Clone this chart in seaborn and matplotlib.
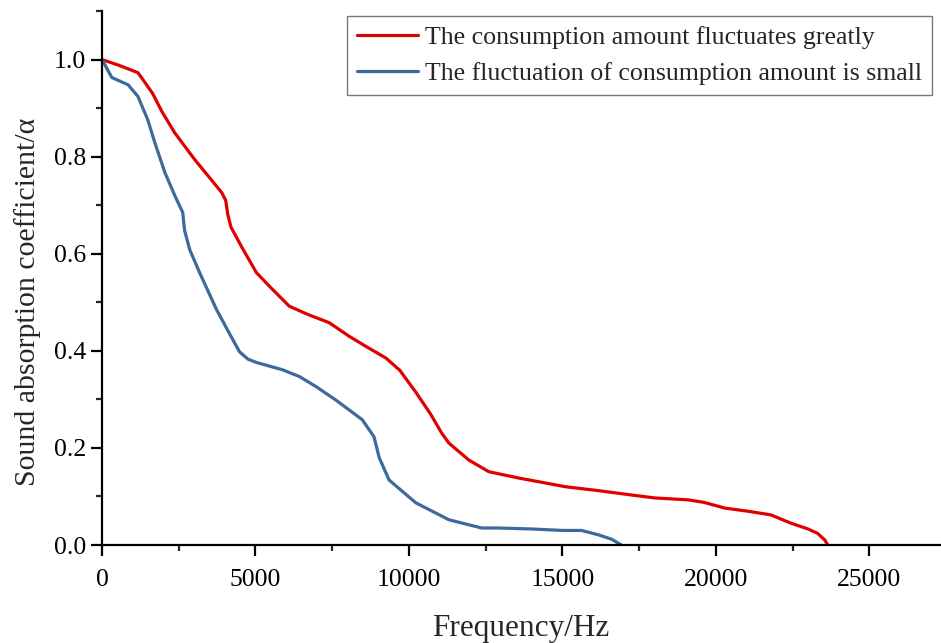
import matplotlib
matplotlib.use("Agg")
import matplotlib.pyplot as plt
import seaborn as sns
import pandas as pd
from matplotlib.ticker import MultipleLocator

# Data
red_freq = [0, 600, 1170, 1330, 1650, 1950, 2370, 3020, 3500, 3900, 4030, 4100, 4200,
            4550, 5030, 5500, 6100, 6700, 7400, 8050, 8600, 9250, 9700, 10220, 10700,
            11070, 11300, 11950, 12600, 13570, 15100, 16170, 17250, 18000, 19090, 19600,
            20290, 21000, 21790, 22440, 23000, 23310, 23550, 23640]
red_alpha = [1.0, 0.987, 0.973, 0.959, 0.93, 0.893, 0.849, 0.794, 0.757, 0.726, 0.71, 0.68, 0.655,
             0.614, 0.561, 0.53, 0.492, 0.475, 0.458, 0.43, 0.409, 0.385, 0.36, 0.315, 0.27,
             0.23, 0.21, 0.175, 0.151, 0.138, 0.12, 0.112, 0.103, 0.097, 0.093, 0.088,
             0.076, 0.07, 0.062, 0.045, 0.033, 0.024, 0.01, 0.0]

blue_freq = [0, 320, 850, 1170, 1490, 1720, 2050, 2370, 2630, 2690, 2860, 3180, 3730, 4200,
             4480, 4750, 5030, 5880, 6430, 6980, 7630, 8480, 8860, 9030, 9350, 10220, 11300,
             12370, 12920, 14000, 15000, 15620, 16170, 16600, 16920]
blue_alpha = [1.0, 0.963, 0.948, 0.924, 0.876, 0.829, 0.767, 0.72, 0.685, 0.648, 0.608, 0.561,
              0.485, 0.43, 0.398, 0.383, 0.376, 0.361, 0.347, 0.326, 0.298, 0.258, 0.223, 0.18,
              0.134, 0.087, 0.052, 0.035, 0.035, 0.033, 0.030, 0.030, 0.021, 0.012, 0.0]

series_names = ["The consumption amount fluctuates greatly",
                "The fluctuation of consumption amount is small"]
x_ticks = [0, 5000, 10000, 15000, 20000, 25000]
y_ticks = [0.0, 0.2, 0.4, 0.6, 0.8, 1.0]

df = pd.concat([
    pd.DataFrame({"Frequency": red_freq, "Alpha": red_alpha, "Series": series_names[0]}),
    pd.DataFrame({"Frequency": blue_freq, "Alpha": blue_alpha, "Series": series_names[1]}),
], ignore_index=True)

sns.set_style("ticks")
plt.rcParams["font.family"] = ["Liberation Serif", "DejaVu Serif"]
plt.rcParams["mathtext.fontset"] = "stix"

fig = plt.figure(figsize=(9.41, 6.43), dpi=100)
ax = fig.add_axes([102 / 941, 98 / 643, 1 - 102 / 941 - 0.001, (545 - 11) / 643])

palette = {series_names[0]: "#E00000", series_names[1]: "#3B6A9B"}
sns.lineplot(data=df, x="Frequency", y="Alpha", hue="Series", palette=palette,
             linewidth=2.3, ax=ax, sort=False, estimator=None)

ax.set_xlim(0, 27300)
ax.set_ylim(0, 1.1)
ax.set_xticks(x_ticks)
ax.set_yticks(y_ticks)
ax.set_yticklabels([f"{v:.1f}" for v in y_ticks])
ax.xaxis.set_minor_locator(MultipleLocator(2500))
ax.yaxis.set_minor_locator(MultipleLocator(0.1))

for side in ["top", "right"]:
    ax.spines[side].set_visible(False)
for side in ["left", "bottom"]:
    ax.spines[side].set_linewidth(1.6)
    ax.spines[side].set_color("black")

ax.tick_params(axis="both", which="major", length=8, width=1.6, labelsize=18.5,
               colors="black", direction="out")
ax.tick_params(axis="both", which="minor", length=4.5, width=1.6, direction="out")
ax.tick_params(axis="x", pad=9)

ax.set_xlabel("Frequency/Hz", fontsize=22.5)
ax.set_ylabel("Sound absorption coefficient/α", fontsize=21.5)
ax.xaxis.set_label_coords(0.5, -0.13)
ax.yaxis.set_label_coords(-0.073, 0.455)

leg = ax.legend(loc="upper right", bbox_to_anchor=(0.99, 0.99), fontsize=18.6,
                frameon=True, fancybox=False, edgecolor="#555555",
                handlelength=2.35, handletextpad=0.27, borderpad=0.38,
                labelspacing=0.5, borderaxespad=0.0)
leg.get_frame().set_linewidth(1.0)

fig.savefig("out.png", dpi=100)
